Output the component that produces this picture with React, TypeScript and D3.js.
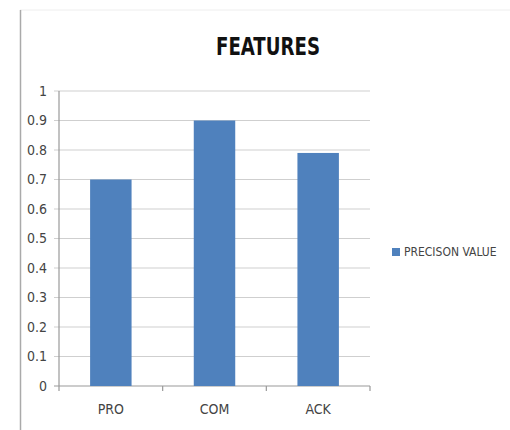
import React from "react";
import * as d3 from "d3";

const categories = ["PRO", "COM", "ACK"];
const precisionValues = [0.7, 0.9, 0.79];
const yTicks = [0, 0.1, 0.2, 0.3, 0.4, 0.5, 0.6, 0.7, 0.8, 0.9, 1];
const seriesName = "PRECISON VALUE";
const title = "FEATURES";

const FONT = "'Liberation Sans Narrow', 'DejaVu Sans Condensed', 'Liberation Sans', Arial, sans-serif";

export default function App() {
  const W = 510, H = 430;
  const left = 59, right = 370, top = 91, bottom = 386;
  const x = d3.scaleBand<string>().domain(categories).range([left, right]).paddingInner(0.6).paddingOuter(0.3);
  const y = d3.scaleLinear().domain([0, 1]).range([bottom, top]);
  const bandStep = (right - left) / categories.length;
  return (
    <svg width={W} height={H} style={{ position: "absolute", left: 0, top: 0, background: "#fff" }}>
      <line x1={20} y1={10} x2={W} y2={10} stroke="#eeeeee" strokeWidth={1} />
      <line x1={20.5} y1={10} x2={20.5} y2={H} stroke="#aaaaaa" strokeWidth={1.5} />
      <text x={268} y={55} textAnchor="middle" fontFamily={FONT} fontWeight="bold" fontSize={25} fill="#111" textLength={104} lengthAdjust="spacingAndGlyphs">{title}</text>
      {yTicks.map((t) => (
        <g key={t}>
          <line x1={left - 5} x2={right} y1={y(t)} y2={y(t)} stroke={t === 0 ? "#999" : "#cfcfcf"} strokeWidth={1.2} />
          <text x={47} y={y(t)} dy="0.35em" textAnchor="end" fontFamily={FONT} fontSize={14} fill="#444">{t}</text>
        </g>
      ))}
      <line x1={left} x2={left} y1={top} y2={bottom} stroke="#999" strokeWidth={1.2} />
      {d3.range(categories.length + 1).map((i) => (
        <line key={i} x1={left + i * bandStep} x2={left + i * bandStep} y1={bottom} y2={bottom + 5} stroke="#999" strokeWidth={1.2} />
      ))}
      {categories.map((c, i) => (
        <g key={c}>
          <rect x={x(c)} y={y(precisionValues[i])} width={x.bandwidth()} height={bottom - y(precisionValues[i])} fill="#4F81BD" />
          <text x={(x(c) as number) + x.bandwidth() / 2} y={414} textAnchor="middle" fontFamily={FONT} fontSize={14} fill="#444">{c}</text>
        </g>
      ))}
      <rect x={392} y={248} width={8} height={8} fill="#4F81BD" />
      <text x={404} y={252} dy="0.35em" fontFamily={FONT} fontSize={12} fill="#444">{seriesName}</text>
    </svg>
  );
}
